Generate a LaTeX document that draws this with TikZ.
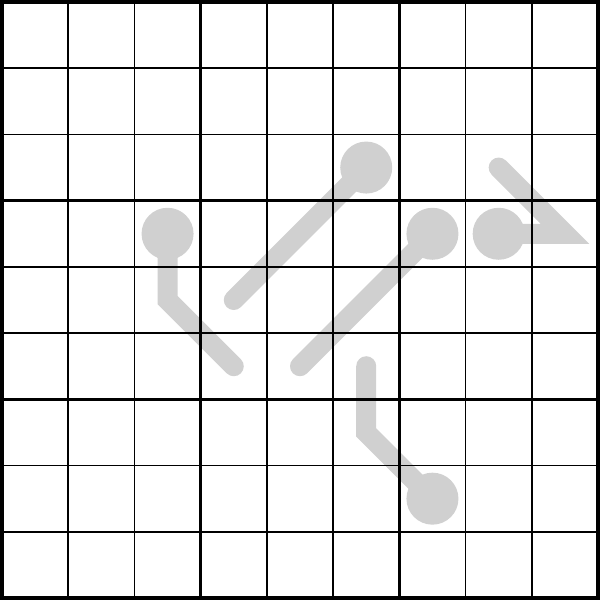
\documentclass[tikz,border=0pt]{standalone}
\begin{document}
\begin{tikzpicture}[x=49.667pt,y=-49.667pt,
  thermoline/.style={draw=thermogray,line width=15pt,line cap=round,line join=miter},
  bulb/.style={fill=thermogray},
  thinline/.style={line width=1.1pt,black},
  thickline/.style={line width=2.6pt,black},
  borderline/.style={line width=3pt,black}]
\definecolor{thermogray}{RGB}{208,208,208}
\useasboundingbox (-0.0302,-0.0302) rectangle (9.0302,9.0302);
\fill[white] (-0.0302,-0.0302) rectangle (9.0302,9.0302);
% cell-centre coordinates
\coordinate (a1) at (5.5,2.5); \coordinate (a2) at (4.5,3.5); \coordinate (a3) at (3.5,4.5);
\coordinate (b1) at (6.5,3.5); \coordinate (b2) at (5.5,4.5); \coordinate (b3) at (4.5,5.5);
\coordinate (c1) at (2.5,3.5); \coordinate (c2) at (2.5,4.5); \coordinate (c3) at (3.5,5.5);
\coordinate (d1) at (6.5,7.5); \coordinate (d2) at (5.5,6.5); \coordinate (d3) at (5.5,5.5);
\coordinate (e1) at (7.5,3.5); \coordinate (e2) at (8.5,3.5); \coordinate (e3) at (7.5,2.5);
% thermometers
\draw[thermoline] (a1) -- (a2) -- (a3);
\draw[thermoline] (b1) -- (b2) -- (b3);
\draw[thermoline] (c1) -- (c2) -- (c3);
\draw[thermoline] (d1) -- (d2) -- (d3);
\draw[thermoline] (e1) -- (e2) -- (e3);
\foreach \p in {a1,b1,c1,d1,e1} \fill[bulb] (\p) circle (0.3926);
% grid
\foreach \i in {1,2,4,5,7,8} {
  \draw[thinline] (\i,0) -- (\i,9);
  \draw[thinline] (0,\i) -- (9,\i);
}
\foreach \i in {3,6} {
  \draw[thickline] (\i,0) -- (\i,9);
  \draw[thickline] (0,\i) -- (9,\i);
}
\draw[borderline] (0,0) rectangle (9,9);
\end{tikzpicture}
\end{document}
